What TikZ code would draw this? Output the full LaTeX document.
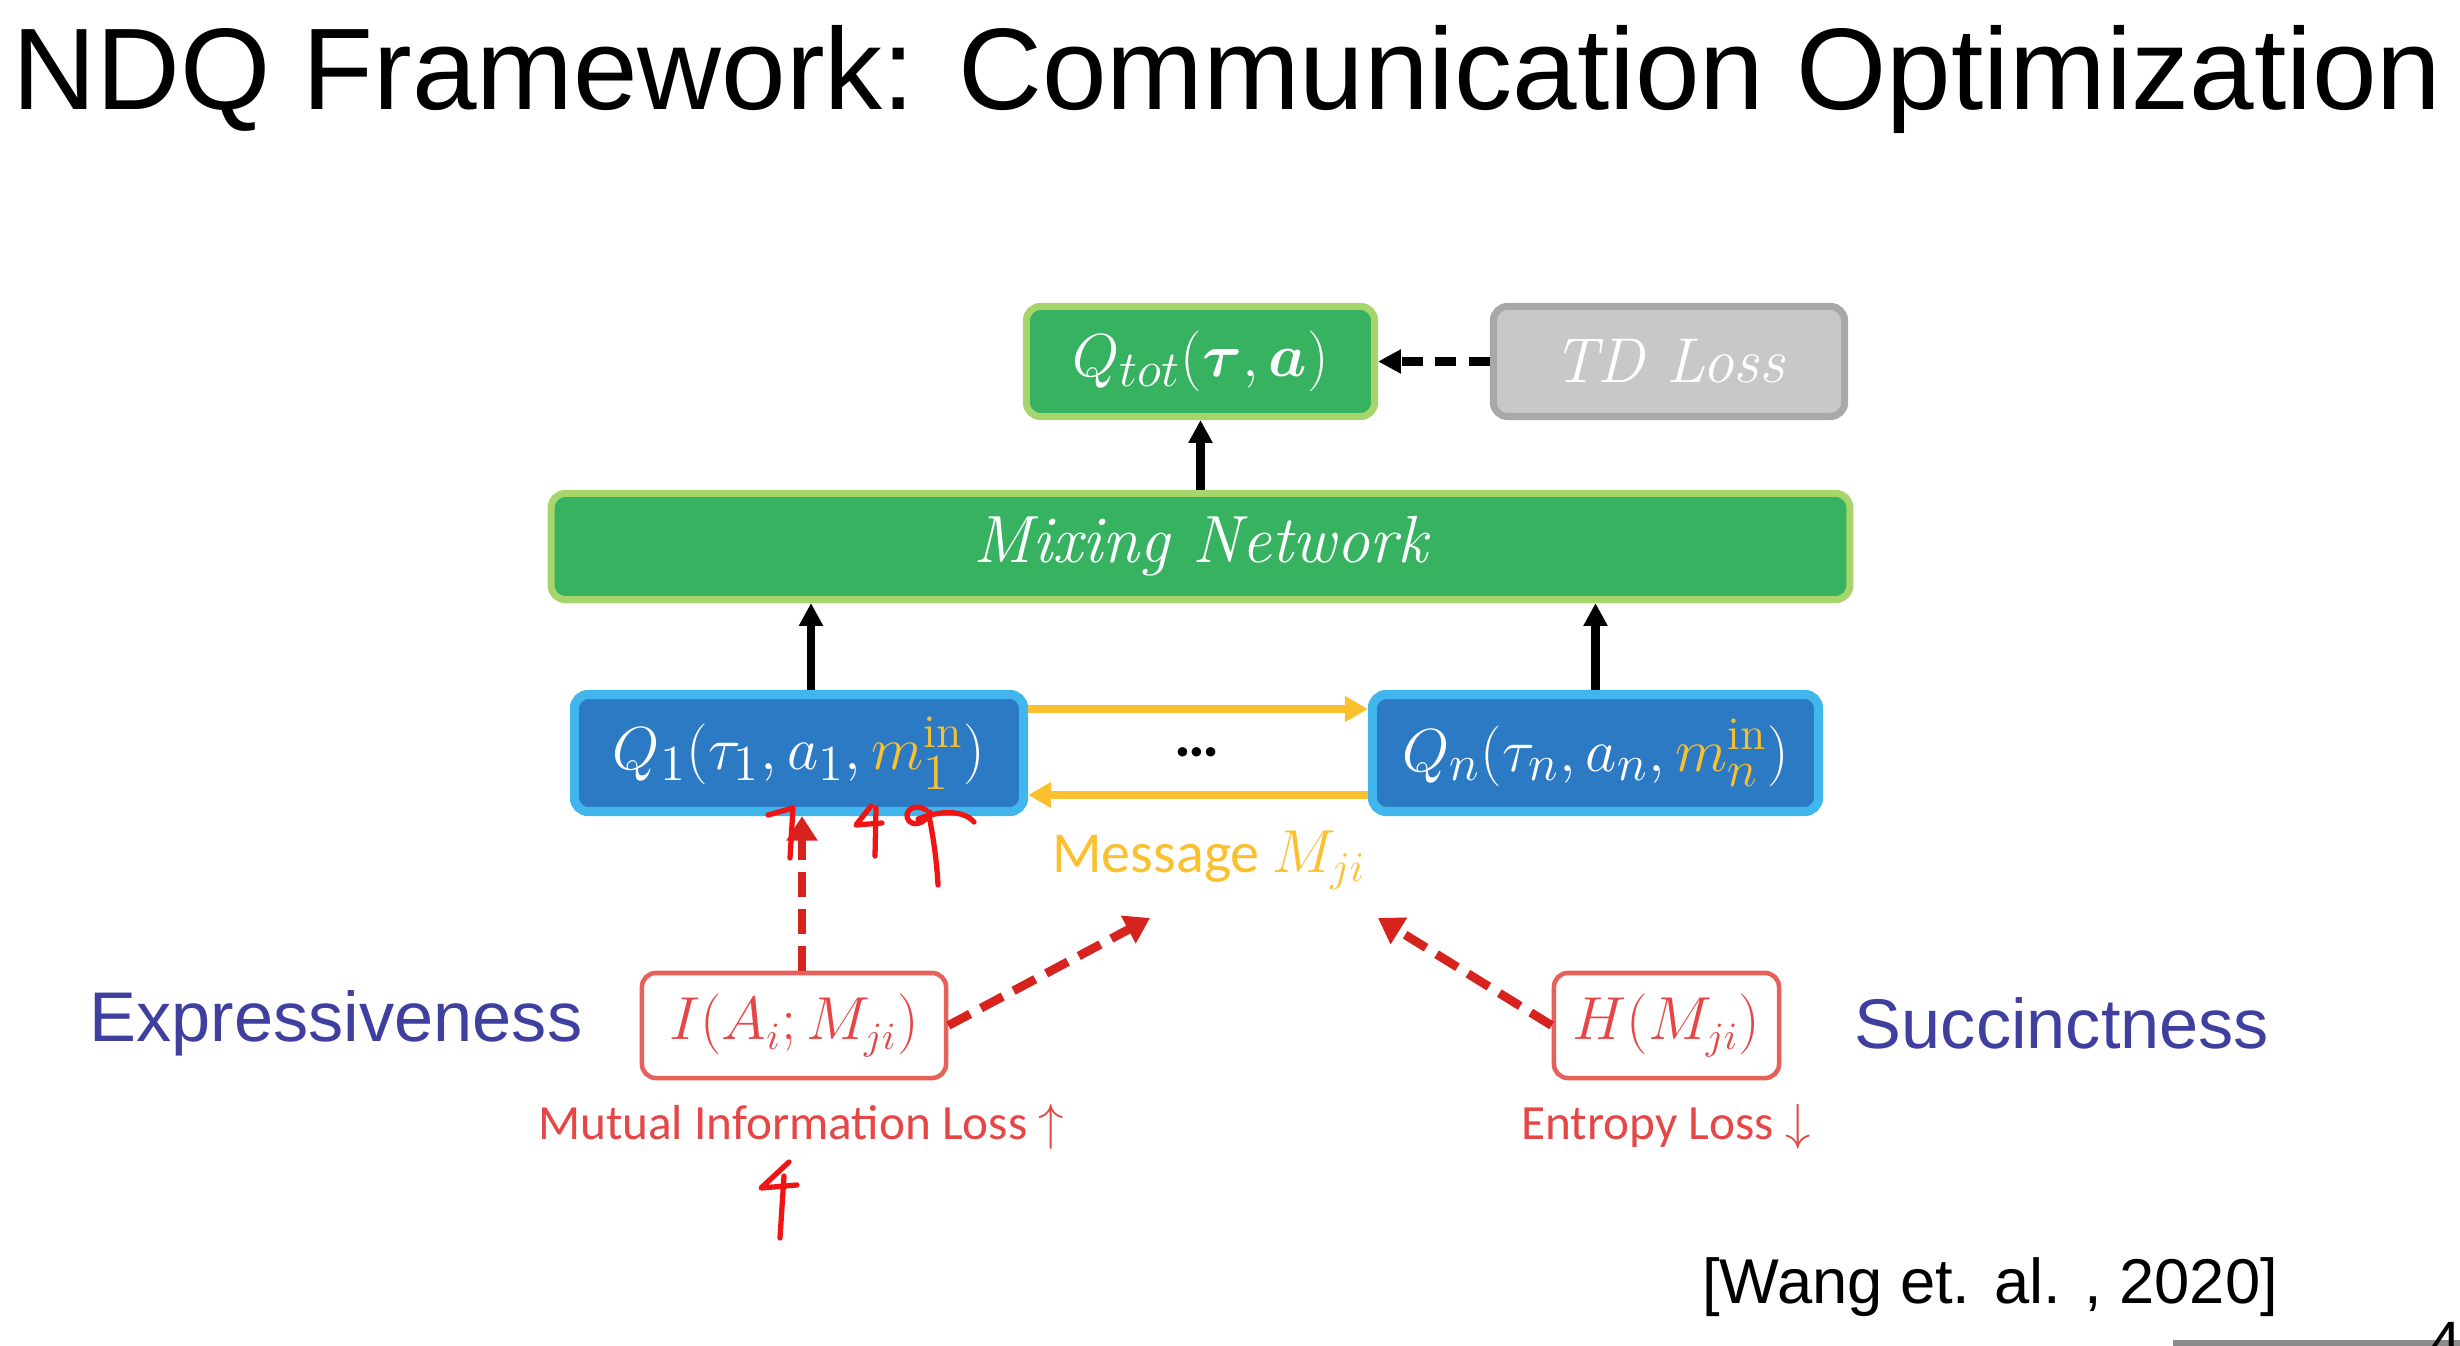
\documentclass[tikz,border=0pt]{standalone}
\usepackage{fontspec}
\usepackage{amsmath,bm}
\newfontfamily\arial{Liberation Sans}
\newfontfamily\calib{Carlito}
\usetikzlibrary{arrows.meta}

\definecolor{gfill}{RGB}{54,178,96}
\definecolor{gedge}{RGB}{166,213,107}
\definecolor{bfill}{RGB}{44,122,196}
\definecolor{bedge}{RGB}{64,182,236}
\definecolor{tdfill}{RGB}{200,200,200}
\definecolor{tdedge}{RGB}{168,168,168}
\definecolor{msg}{RGB}{250,192,45}
\definecolor{rbox}{RGB}{232,96,90}
\definecolor{rarrow}{RGB}{215,35,30}
\definecolor{rtext}{RGB}{230,70,70}
\definecolor{ink}{RGB}{240,20,20}
\definecolor{purp}{RGB}{63,63,160}

\tikzset{
  box/.style={rounded corners=4pt, inner sep=0pt, align=center},
  greenbox/.style={box, fill=gfill, draw=gedge, line width=2pt, text=white,
    font=\fontsize{19}{21}\selectfont},
  graybox/.style={box, fill=tdfill, draw=tdedge, line width=2pt, text=white,
    font=\fontsize{18}{20}\selectfont\itshape},
  bluebox/.style={box, fill=bfill, draw=bedge, line width=2.6pt, text=white,
    font=\fontsize{19}{21}\selectfont},
  redbox/.style={box, fill=white, draw=rbox, line width=1.3pt, text=rtext,
    font=\fontsize{16}{18}\selectfont},
  blk/.style={line width=2.3pt, -{Triangle[width=6.5pt,length=6.5pt]}},
  blkdash/.style={blk, dash pattern=on 6pt off 3.5pt},
  yarrow/.style={draw=msg, line width=2.2pt, -{Triangle[width=7pt,length=6.5pt]}},
  rdash/.style={draw=rarrow, line width=2.5pt, dash pattern=on 7pt off 3.5pt,
    -{Triangle[width=8.5pt,length=7pt]}},
  side/.style={text=purp, font=\arial\fontsize{20}{24}\selectfont},
  losslabel/.style={text=rtext, font=\calib\fontsize{14}{16}\selectfont},
  inkstroke/.style={draw=ink, line width=1.5pt, line cap=round, line join=round},
}

\begin{document}
\begin{tikzpicture}[x=0.01cm, y=-0.01cm]
\clip (0,0) rectangle (2460,1346);
\fill[white] (0,0) rectangle (2460,1346);

% title
\node[anchor=base west, inner sep=0pt, font=\arial\fontsize{33}{36}\selectfont] (title)
  at (12,110) {NDQ Framework: Communication Optimization};

% top row
\node[greenbox, minimum width=3.48cm, minimum height=1.10cm] (Qtot) at (1200.5,361.5)
  {$Q_{tot}(\bm{\tau},\bm{a})$};
\node[graybox, minimum width=3.51cm, minimum height=1.10cm] (TD) at (1669,361.5)
  {TD Loss};
\node[greenbox, font=\fontsize{19}{21}\selectfont\itshape,
  minimum width=12.98cm, minimum height=1.06cm] (Mix) at (1200.5,546.5)
  {Mixing Network};

% agents
\node[bluebox, minimum width=4.49cm, minimum height=1.17cm] (Q1) at (799,753)
  {$Q_1(\tau_1,a_1,\textcolor{msg}{m_1^{\mathrm{in}}})$};
\node[bluebox, minimum width=4.46cm, minimum height=1.17cm] (Qn) at (1595.5,753)
  {$Q_n(\tau_n,a_n,\textcolor{msg}{m_n^{\mathrm{in}}})$};
\node[font=\calib\bfseries\fontsize{18}{20}\selectfont] (dots) at (1197,752) {…};

% connectors between the network parts
\draw[blkdash] (TD.west) -- (Qtot.east);
\draw[blk] (Mix.north -| Qtot.south) -- (Qtot.south);
\draw[blk] ([xshift=0.12cm]Q1.north) -- ([xshift=0.12cm]Q1.north |- Mix.south);
\draw[blk] (Qn.north) -- (Qn.north |- Mix.south);
\draw[yarrow] ([yshift=0.44cm]Q1.east) -- ([yshift=0.44cm]Q1.east -| Qn.west);
\draw[yarrow] ([yshift=-0.42cm]Qn.west) -- ([yshift=-0.42cm]Qn.west -| Q1.east);

% message and its losses
\node[text=msg, font=\calib\fontsize{16.5}{19}\selectfont] (Msg) at (1209,860)
  {Message $M_{ji}$};
\coordinate (mL) at (1150,918);
\coordinate (mR) at (1378,918);

\node[redbox, minimum width=3.04cm, minimum height=1.05cm] (I) at (794,1025.5)
  {$I(A_i;M_{ji})$};
\node[redbox, minimum width=2.25cm, minimum height=1.05cm] (H) at (1666.5,1025.5)
  {$H(M_{ji})$};

\draw[rdash] ([xshift=0.08cm]I.north) -- ([xshift=0.08cm]I.north |- Q1.south);
\draw[rdash] (I.east) -- (mL);
\draw[rdash] (H.west) -- (mR);

\node[side] (expr) at (336,1023) {Expressiveness};
\node[side] (succ) at (2062,1023) {Succinctness};

\node[losslabel] (mil) at (801,1127) {Mutual Information Loss $\uparrow$};
\node[losslabel] (el) at (1666,1127) {Entropy Loss $\downarrow$};

% citation and page footer
\node[font=\arial\fontsize{18}{20}\selectfont] (cite) at (1990,1287) {[Wang et. al. , 2020]};
\fill[gray!90] (2173,1340) rectangle (2460,1346);
\node[anchor=north west, inner sep=0pt, font=\arial\fontsize{17}{20}\selectfont] (pg)
  at (2428,1322) {41};

% handwritten marks
\draw[inkstroke] (768,815) -- (793,808) -- (790,858);
\draw[inkstroke] (871,806) -- (856,825) -- (882,823);
\draw[inkstroke] (876,808) -- (875,856);
\draw[inkstroke] (926,810) .. controls (914,802) and (902,812) .. (909,821)
  .. controls (916,828) and (928,820) .. (930,812);
\draw[inkstroke] (918,819) .. controls (935,812) and (962,808) .. (974,822);
\draw[inkstroke] (929,816) .. controls (934,840) and (937,865) .. (938,885);
\draw[inkstroke] (789,1162) -- (761,1188) -- (797,1185);
\draw[inkstroke] (784,1176) -- (780,1238);
\end{tikzpicture}
\end{document}
